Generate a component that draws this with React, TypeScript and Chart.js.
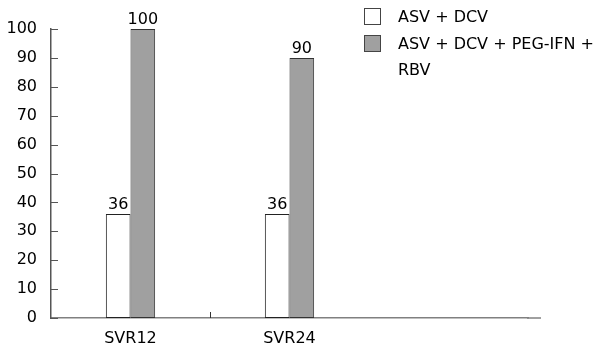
import React, { useEffect, useRef } from "react";
import { Chart, registerables } from "chart.js";

Chart.register(...registerables);

const categories = ["SVR12", "SVR24", ""];
const seriesLabels = ["ASV + DCV", "ASV + DCV + PEG-IFN + RBV"];
const seriesA = [36, 36, null];
const seriesB = [100, 90, null];
const seriesColors = ["#ffffff", "#a0a0a0"];
const yTicksMax = 100;
const yTicksStep = 10;

const FONT = "'DejaVu Sans', Verdana, sans-serif";

function wrapText(ctx: CanvasRenderingContext2D, text: string, maxW: number): string[] {
  const words = text.split(" ");
  const lines: string[] = [];
  let cur = "";
  for (const w of words) {
    const test = cur ? cur + " " + w : w;
    if (ctx.measureText(test).width > maxW && cur) {
      lines.push(cur);
      cur = w;
    } else cur = test;
  }
  if (cur) lines.push(cur);
  return lines;
}

const decorPlugin = {
  id: "decor",
  afterDraw(chart: any) {
    const ctx = chart.ctx as CanvasRenderingContext2D;
    const area = chart.chartArea;
    const y = chart.scales.y;
    const x = chart.scales.x;
    ctx.save();
    // y ticks inward
    ctx.strokeStyle = "#555";
    ctx.lineWidth = 1;
    y.ticks.forEach((t: any) => {
      const py = Math.round(y.getPixelForValue(t.value)) + 0.5;
      ctx.beginPath();
      ctx.moveTo(area.left, py);
      ctx.lineTo(area.left + 7, py);
      ctx.stroke();
    });
    // x tick between first two categories
    const bx = Math.round((x.getPixelForValue(0) + x.getPixelForValue(1)) / 2) + 0.5;
    ctx.strokeStyle = "#333";
    ctx.beginPath();
    ctx.moveTo(bx, area.bottom);
    ctx.lineTo(bx, area.bottom - 6);
    ctx.stroke();
    // axis extension
    ctx.strokeStyle = "#808080";
    ctx.lineWidth = 1.5;
    ctx.beginPath();
    ctx.moveTo(area.right - 1, area.bottom);
    ctx.lineTo(area.right + 13, area.bottom);
    ctx.stroke();

    // data labels
    ctx.fillStyle = "#000";
    ctx.font = "16px " + FONT;
    ctx.textAlign = "center";
    ctx.textBaseline = "alphabetic";
    chart.data.datasets.forEach((ds: any, di: number) => {
      const meta = chart.getDatasetMeta(di);
      meta.data.forEach((el: any, i: number) => {
        const v = ds.data[i];
        if (v == null) return;
        ctx.fillText(String(v), el.x, el.y - 5);
      });
    });

    // legend
    ctx.textAlign = "left";
    ctx.textBaseline = "middle";
    let ly = 16;
    chart.data.datasets.forEach((ds: any) => {
      ctx.fillStyle = ds.backgroundColor;
      ctx.fillRect(364, ly - 8, 17, 17);
      ctx.strokeStyle = "#444";
      ctx.lineWidth = 1;
      ctx.strokeRect(364.5, ly - 7.5, 16, 16);
      ctx.fillStyle = "#000";
      const lines = wrapText(ctx, ds.label, 210);
      lines.forEach((ln, k) => {
        ctx.fillText(ln, 398, ly + 2 + k * 26);
      });
      ly += lines.length * 27;
    });
    ctx.restore();
  },
};

export default function App() {
  const ref = useRef<HTMLCanvasElement | null>(null);
  useEffect(() => {
    if (!ref.current) return;
    const chart = new Chart(ref.current, {
      type: "bar",
      data: {
        labels: categories,
        datasets: [
          {
            label: seriesLabels[0],
            data: seriesA,
            backgroundColor: seriesColors[0],
            borderColor: "#222",
            borderWidth: 1,
            borderSkipped: false,
            categoryPercentage: 0.31,
            barPercentage: 1,
          },
          {
            label: seriesLabels[1],
            data: seriesB,
            backgroundColor: seriesColors[1],
            borderColor: "#333",
            borderWidth: 1,
            borderSkipped: false,
            categoryPercentage: 0.31,
            barPercentage: 1,
          },
        ],
      },
      options: {
        responsive: false,
        animation: false,
        layout: { padding: { top: 29, right: 80, left: 0, bottom: 0 } },
        plugins: { legend: { display: false }, tooltip: { enabled: false } },
        scales: {
          x: {
            grid: { display: false, drawTicks: false },
            border: { display: true, color: "#808080", width: 1.5 },
            ticks: { color: "#000", font: { family: FONT, size: 16 }, padding: 11, maxRotation: 0 },
            afterFit: (s: any) => {
              s.height = 33;
            },
          },
          y: {
            min: 0,
            max: yTicksMax,
            grid: { display: false, drawTicks: false },
            border: { display: true, color: "#555", width: 1.5 },
            ticks: { stepSize: yTicksStep, color: "#000", font: { family: FONT, size: 16 }, padding: 14 },
            afterFit: (s: any) => {
              s.width = 51;
            },
          },
        },
      },
      plugins: [decorPlugin],
    });
    return () => chart.destroy();
  }, []);
  return (
    <div style={{ position: "absolute", left: 0, top: 0, width: 608, height: 351, background: "#fff" }}>
      <canvas ref={ref} width={608} height={351} />
    </div>
  );
}
